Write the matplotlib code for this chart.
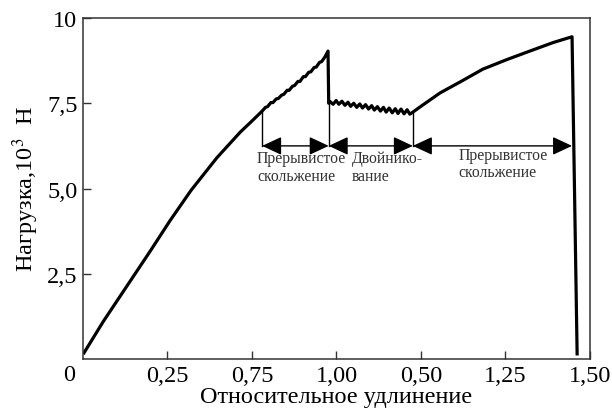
import matplotlib.pyplot as plt

plt.rcParams['font.family'] = ['Liberation Serif', 'DejaVu Serif']
plt.rcParams['mathtext.fontset'] = 'stix'

# Loading curve: elastic part, serrated slip, twinning, hardening, fracture
x_elastic = [0.003, 0.06, 0.13, 0.20, 0.257, 0.32, 0.396, 0.43, 0.465, 0.50, 0.53]
y_elastic = [0.18, 1.10, 2.14, 3.18, 4.05, 4.95, 5.90, 6.27, 6.65, 6.98, 7.27]

x_slip = [0.540, 0.546, 0.556, 0.562, 0.572, 0.578, 0.588, 0.594, 0.604, 0.610,
          0.620, 0.626, 0.636, 0.642, 0.652, 0.658, 0.668, 0.674, 0.684, 0.690,
          0.700, 0.706, 0.716, 0.725]
y_slip = [7.38, 7.40, 7.52, 7.52, 7.63, 7.64, 7.74, 7.76, 7.88, 7.88,
          8.00, 8.02, 8.14, 8.14, 8.28, 8.28, 8.41, 8.42, 8.55, 8.56,
          8.70, 8.72, 8.86, 9.03]

x_twin = [0.727, 0.731, 0.740, 0.749, 0.757, 0.766, 0.775, 0.784, 0.792, 0.801,
          0.810, 0.819, 0.827, 0.836, 0.845, 0.854, 0.862, 0.871, 0.880, 0.889,
          0.897, 0.906, 0.915, 0.924, 0.932, 0.941, 0.950, 0.959, 0.967, 0.976]
y_twin = [7.50, 7.55, 7.47, 7.58, 7.47, 7.56, 7.44, 7.53, 7.41, 7.50,
          7.38, 7.48, 7.36, 7.46, 7.33, 7.43, 7.30, 7.40, 7.27, 7.38,
          7.24, 7.36, 7.22, 7.34, 7.20, 7.33, 7.19, 7.31, 7.18, 7.24]

x_hard = [0.997, 1.056, 1.124, 1.183, 1.254, 1.322, 1.391, 1.447, 1.462]
y_hard = [7.39, 7.80, 8.17, 8.50, 8.78, 9.03, 9.28, 9.45, 0.15]

# stage boundaries and arrow level
stage_x = [0.53, 0.727, 0.976, 1.447]
stage_y = [7.27, 7.50, 7.24]
arrow_y = 6.25
stage_labels = ['Прерывистое\nскольжение', 'Двойнико-\nвание', 'Прерывистое\nскольжение']
label_x = [0.515, 0.795, 1.112]
label_y = [6.12, 6.12, 6.22]

xticks = [0.25, 0.5, 0.75, 1.0, 1.25, 1.5]
xtick_labels = ['0,25', '0,75', '1,00', '0,50', '1,25', '1,50']
yticks = [2.5, 5.0, 7.5, 10]
ytick_labels = ['2,5', '5,0', '7,5', '10']

fig = plt.figure(figsize=(6.12, 4.14), dpi=100)
ax = fig.add_axes([0.1356, 0.1304, 0.8284, 0.8237])

x_all = x_elastic + x_slip + x_twin + x_hard
y_all = y_elastic + y_slip + y_twin + y_hard
ax.plot(x_all, y_all, color='black', lw=2.3, solid_joinstyle='round')

for xs, ys in zip(stage_x[:3], stage_y):
    ax.plot([xs, xs], [ys, arrow_y], color='black', lw=1.0)

for i in range(3):
    ax.annotate('', xy=(stage_x[i + 1], arrow_y), xytext=(stage_x[i], arrow_y),
                arrowprops=dict(arrowstyle='<|-|>,head_length=0.6,head_width=0.28',
                                mutation_scale=20, color='black', lw=1.0,
                                shrinkA=0, shrinkB=0))
    ax.text(label_x[i], label_y[i], stage_labels[i], fontsize=11.3, va='top',
            ha='left', linespacing=1.1, color='#333333')

ax.set_xlim(0, 1.5)
ax.set_ylim(0, 10)
ax.set_xticks(xticks)
ax.set_xticklabels(xtick_labels)
ax.set_yticks(yticks)
ax.set_yticklabels(ytick_labels)
ax.tick_params(direction='in', length=6, width=1.0, labelsize=17.5, color='#333333')
ax.tick_params(axis='x', pad=4)
ax.tick_params(axis='y', pad=4)
ax.annotate('0', xy=(0, 0), xytext=(-10, -11), textcoords='offset points',
            ha='center', va='center', fontsize=17.5)

for s in ax.spines.values():
    s.set_linewidth(1.1)
    s.set_color('#333333')

ax.set_xlabel('Относительное удлинение', fontsize=17.5, labelpad=0)
ax.set_ylabel('Нагрузка,10$^3$  Н', fontsize=17.5, labelpad=4)

fig.savefig('out.png', dpi=100)
